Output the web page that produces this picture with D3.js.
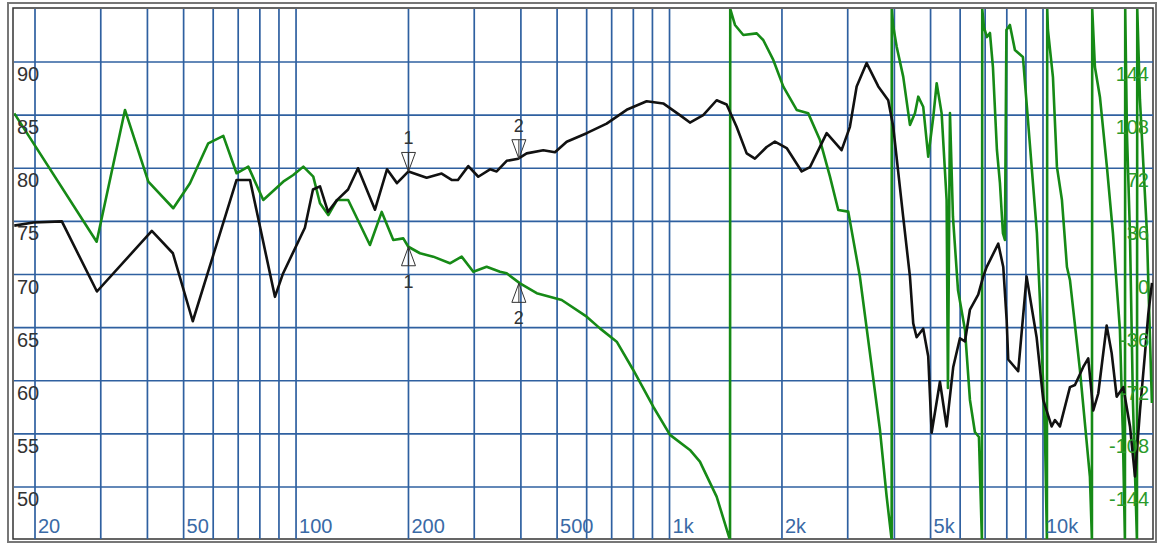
<!DOCTYPE html>
<html>
<head>
<meta charset="utf-8">
<script src="https://cdn.jsdelivr.net/npm/d3@7"></script>
<style>
  html, body { margin: 0; padding: 0; background: #fff; }
  svg { display: block; }
  text { font-family: "Liberation Sans Narrow", "Liberation Sans", Arial, sans-serif; }
</style>
</head>
<body>
<div id="chart"></div>
<script>
// SPL curve (Hz, dB)
const splFreq = [17.6, 19.8, 23.6, 29.3, 41.1, 46.8, 52.9, 69.3, 75.3, 87.8, 92.3, 105.6, 111, 115.9, 121.8, 128.7, 137.8, 146.5, 162.7, 175.2, 186.3, 200, 223.7, 245.4, 261, 271.3, 289.2, 307.6, 330.6, 344.5, 366.4, 393.6, 414.5, 459.2, 493.5, 530.5, 600, 678.6, 767.8, 868.5, 962, 1066, 1134, 1231, 1337, 1422, 1512, 1609, 1693, 1820, 1915, 2059, 2259, 2377, 2635, 2889, 3041, 3170, 3371, 3622, 3851, 3972, 4224, 4403, 4493, 4588, 4778, 4928, 5033, 5297, 5520, 5750, 5992, 6181, 6374, 6707, 6917, 7063, 7590, 7828, 7993, 8071, 8583, 9039, 9613, 10014, 10546, 10763, 11100, 11807, 12177, 12816, 13217, 13632, 14060, 14807, 15271, 15750, 16405, 17097, 17633, 18186, 18756, 19141, 19582];
const splDb = [74.6, 74.9, 75.0, 68.4, 74.1, 72.0, 65.6, 78.9, 78.9, 67.9, 70.1, 74.4, 78.0, 78.3, 75.9, 77.0, 78.0, 80.0, 76.1, 79.9, 78.6, 79.7, 79.1, 79.5, 78.9, 78.9, 80.2, 79.2, 79.9, 79.7, 80.7, 80.9, 81.4, 81.7, 81.5, 82.5, 83.3, 84.2, 85.5, 86.3, 86.1, 85.0, 84.3, 85.0, 86.4, 86.0, 83.9, 81.4, 80.9, 82.0, 82.5, 81.9, 79.7, 80.1, 83.3, 81.7, 83.9, 87.7, 89.9, 87.7, 86.4, 83.9, 75.4, 69.8, 65.4, 64.1, 64.9, 62.3, 55.1, 59.9, 55.7, 61.3, 64.0, 63.7, 66.7, 68.1, 69.8, 70.7, 72.9, 70.7, 65.7, 62.0, 60.9, 69.8, 64.1, 58.2, 55.7, 56.3, 55.7, 59.4, 59.6, 61.3, 62.1, 57.2, 58.8, 65.2, 62.6, 58.5, 59.4, 55.7, 51.0, 57.2, 62.6, 66.3, 69.2];

// phase curve (Hz, degrees, wrapped at +/-180)
const phaseFreq = [17.6, 29.25, 34.83, 40.22, 46.91, 52.0, 58.2, 63.86, 69.3, 74.5, 81.7, 92.4, 98.3, 104.6, 111.2, 115.9, 122.0, 128.7, 137.9, 157.7, 169.6, 182.1, 193.7, 199.8, 214.7, 233.0, 258.2, 277.6, 298.3, 323.8, 351.6, 366.4, 397.8, 441.0, 514.4, 600, 651.2, 722.1, 799.6, 904.6, 1003, 1134, 1206, 1337, 1452, 1454, 1497, 1576, 1712, 1782, 1896, 2017, 2190, 2352, 2528, 2689, 2830, 3010, 3234, 3441, 3660, 3814, 3934, 3936, 3973, 4057, 4224, 4403, 4541, 4634, 4778, 4928, 5085, 5192, 5353, 5520, 5565, 5635, 5740, 5921, 6182, 6374, 6571, 6737, 6862, 6876, 6947, 7078, 7210, 7344, 7527, 7668, 7810, 7908, 7981, 8154, 8410, 8836, 9056, 9632, 9812, 10118, 10245, 10264, 10309, 10632, 10897, 11238, 11591, 11807, 12556, 13355, 13521, 13546, 13772, 14204, 14830, 15390, 16068, 16370, 16571, 16602, 16778, 17091, 17413, 17847, 17880, 18180, 18981, 19100, 19572];
const phaseDeg = [109.2, 22.2, 111.5, 62.9, 44.9, 61.8, 88.9, 93.9, 68.6, 73.1, 50.5, 62.9, 67.4, 73.1, 66.3, 48.3, 40.3, 50.5, 50.5, 20.0, 42.4, 23.4, 24.5, 18.8, 14.4, 12.1, 7.6, 12.1, 1.9, 5.3, 1.9, 0.8, -6.0, -12.7, -17.3, -28.6, -36.5, -45.5, -64.7, -89.6, -108.7, -118.9, -126.8, -150.5, -180, 180, 169.1, 162.3, 163.4, 158.9, 145.4, 127.3, 111.5, 109.2, 91.1, 66.3, 43.7, 42.6, -1.5, -53.4, -105.4, -150.5, -180, 180, 168, 154.4, 134.1, 101.4, 109.2, 120.5, 113.7, 79.8, 106.9, 129.6, 109.2, 50.5, -76.9, 109.4, 39.0, -10.5, -37.6, -85.0, -106.7, -110.1, -180, 180, 167.7, 160.9, 163.7, 140.6, 84.4, 62.0, 28.1, 23.4, 165.7, 169.1, 152.1, 147.4, 113.5, 28.1, -17.3, -105.4, -180, 180, 165.7, 133.8, 72.9, 50.5, 5.1, -3.7, -64.7, -137.2, -180, 180, 140.6, 120.3, 72.9, 28.1, -37.6, -110.1, -180, 180, 95.9, 28.1, -87.1, -180, 180, 118.3, 28.1, 3.1, -87.1];

// cursors
const markerLabels = ["1", "2"];
const markerFreq = [200, 395];
const markerDb = [79.7, 80.9];
const markerDeg = [18.8, -6.0];

// axes
const xTicks = [20, 50, 100, 200, 500, 1000, 2000, 5000, 10000];
const xTickLabels = ["20", "50", "100", "200", "500", "1k", "2k", "5k", "10k"];
const xGrid = [20, 30, 40, 50, 60, 70, 80, 90, 100, 200, 300, 400, 500, 600, 700, 800, 900, 1000, 2000, 3000, 4000, 5000, 6000, 7000, 8000, 9000, 10000];
const dbTicks = [90, 85, 80, 75, 70, 65, 60, 55, 50];
const degTicks = [144, 108, 72, 36, 0, -36, -72, -108, -144];

const W = 1158, H = 545;
const plot = { left: 14, top: 9, right: 1153, bottom: 539 };

const gridColor = "#2f60a0";
const splColor = "#111";
const phaseColor = "#168a16";

const svg = d3.select("#chart").append("svg").attr("width", W).attr("height", H);

const x = d3.scaleLog().domain([20, 10000]).range([35, 1043]);
const y = d3.scaleLinear().domain([50, 90]).range([487, 62]);
const yPh = d3.scaleLinear().domain([-144, 144]).range([487, 62]);

svg.append("defs").append("clipPath").attr("id", "clip")
  .append("rect")
  .attr("x", plot.left).attr("y", plot.top)
  .attr("width", plot.right - plot.left).attr("height", plot.bottom - plot.top);

// frame
svg.append("rect").attr("x", 8).attr("y", 3).attr("width", 1148).attr("height", 539)
  .attr("fill", "#fff").attr("stroke", "#777").attr("stroke-width", 2);
svg.append("rect").attr("x", 13).attr("y", 8).attr("width", 1140).attr("height", 531)
  .attr("fill", "#fff").attr("stroke", "#333").attr("stroke-width", 1.5);

const g = svg.append("g").attr("clip-path", "url(#clip)");

// grid
g.selectAll(".vgrid").data(xGrid).enter().append("line")
  .attr("x1", d => x(d)).attr("x2", d => x(d))
  .attr("y1", plot.top).attr("y2", plot.bottom)
  .attr("stroke", gridColor).attr("stroke-width", 1.7);
g.selectAll(".hgrid").data(dbTicks).enter().append("line")
  .attr("x1", plot.left).attr("x2", plot.right)
  .attr("y1", d => y(d)).attr("y2", d => y(d))
  .attr("stroke", gridColor).attr("stroke-width", 1.7);

// tick labels
svg.selectAll(".ylab").data(dbTicks).enter().append("text")
  .attr("x", 17).attr("y", d => y(d) + 19)
  .attr("font-size", 20).attr("fill", "#333")
  .text(d => d);
svg.selectAll(".xlab").data(xTicks).enter().append("text")
  .attr("x", d => x(d) + 3).attr("y", 533)
  .attr("font-size", 20).attr("fill", "#3a6aa6")
  .text((d, i) => xTickLabels[i]);

// curves
const splLine = d3.line().x(d => x(d[0])).y(d => y(d[1]));
const phaseLine = d3.line().x(d => x(d[0])).y(d => yPh(d[1]));

g.append("path")
  .attr("d", phaseLine(d3.zip(phaseFreq, phaseDeg)))
  .attr("fill", "none").attr("stroke", phaseColor)
  .attr("stroke-width", 2.6).attr("stroke-linejoin", "round");

g.append("path")
  .attr("d", splLine(d3.zip(splFreq, splDb)))
  .attr("fill", "none").attr("stroke", splColor)
  .attr("stroke-width", 2.6).attr("stroke-linejoin", "round");

// right axis labels (phase)
svg.selectAll(".plab").data(degTicks).enter().append("text")
  .attr("x", 1149).attr("y", d => yPh(d) + 19)
  .attr("text-anchor", "end")
  .attr("font-size", 20).attr("fill", "#2a9a2a")
  .text(d => d);

// cursor markers
markerFreq.forEach((f, i) => {
  const mx = x(f);
  const my = y(markerDb[i]);
  svg.append("path")
    .attr("d", `M${mx},${my} L${mx - 7},${my - 19} L${mx + 7},${my - 19} Z M${mx},${my} L${mx},${my - 19}`)
    .attr("fill", "none").attr("stroke", "#333").attr("stroke-width", 1);
  svg.append("text").attr("x", mx).attr("y", my - 27)
    .attr("text-anchor", "middle").attr("font-size", 18).attr("fill", "#333")
    .text(markerLabels[i]);

  const py = yPh(markerDeg[i]);
  svg.append("path")
    .attr("d", `M${mx},${py} L${mx - 7},${py + 19} L${mx + 7},${py + 19} Z M${mx},${py} L${mx},${py + 19}`)
    .attr("fill", "none").attr("stroke", "#333").attr("stroke-width", 1);
  svg.append("text").attr("x", mx).attr("y", py + 41)
    .attr("text-anchor", "middle").attr("font-size", 18).attr("fill", "#333")
    .text(markerLabels[i]);
});
</script>
</body>
</html>
